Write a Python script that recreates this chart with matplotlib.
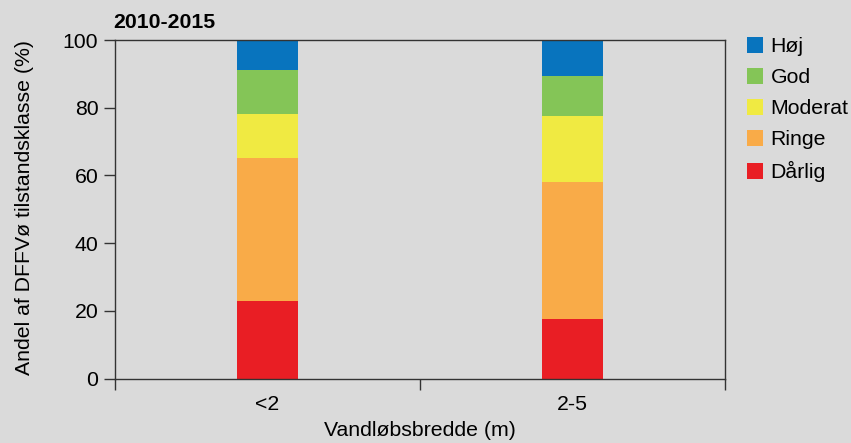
import matplotlib
matplotlib.use('Agg')
import matplotlib.pyplot as plt
import numpy as np

plt.rcParams['font.family'] = ['Liberation Sans', 'DejaVu Sans']

# Data (percent per class, bottom to top)
categories = ["<2", "2-5"]
classes    = ["Dårlig", "Ringe", "Moderat", "God", "Høj"]
daarlig    = [22.9, 17.5]
ringe      = [42.3, 40.7]
moderat    = [12.9, 19.4]
god        = [13.0, 11.8]
hoej       = [8.9, 10.6]
colors     = ["#e91e24", "#f9ab48", "#f0ea42", "#84c557", "#0874be"]

BG = "#dadada"
EDGE = "#333333"
FS = 15.3

fig = plt.figure(figsize=(8.51, 4.43), dpi=100, facecolor=BG)
ax = fig.add_axes([0.1351, 0.1451, 0.7168, 0.7646], facecolor=BG)

x = np.arange(len(categories)) + 0.5
bottom = np.zeros(len(categories))
handles = []
for name, vals, col in zip(classes, [daarlig, ringe, moderat, god, hoej], colors):
    b = ax.bar(x, vals, width=0.2, bottom=bottom, color=col, label=name, zorder=2)
    handles.append(b)
    bottom += np.array(vals)

ax.set_xlim(0, len(categories))
ax.set_ylim(0, 100)
ax.set_yticks([0, 20, 40, 60, 80, 100])
ax.set_xticks([0, 1, 2])
ax.set_xticklabels([])
ax.set_xticks(x, minor=True)
ax.set_xticklabels(categories, minor=True)
ax.tick_params(axis='x', which='major', length=8, width=1, color=EDGE, direction='out')
ax.tick_params(axis='x', which='minor', length=0, pad=12, labelsize=FS)
ax.tick_params(axis='y', length=8, width=1, color=EDGE, direction='out', pad=4, labelsize=FS)

for s in ax.spines.values():
    s.set_color(EDGE)
    s.set_linewidth(1)

ax.set_ylabel("Andel af DFFVø tilstandsklasse (%)", fontsize=FS)
ax.yaxis.set_label_coords(-0.1335, 0.505)
ax.set_xlabel("Vandløbsbredde (m)", fontsize=FS, labelpad=5)
fig.text(0.133, 0.950, "2010-2015", fontsize=FS, fontweight='bold', va='center', ha='left')

leg = ax.legend(handles[::-1], classes[::-1], loc='upper left',
                bbox_to_anchor=(747 / 851, 1 - 37 / 443), bbox_transform=fig.transFigure,
                frameon=False, fontsize=FS, handlelength=0.75, handleheight=0.75,
                handletextpad=0.35, labelspacing=0.56, borderpad=0, borderaxespad=0)

fig.savefig("out.png", dpi=100, facecolor=BG)
